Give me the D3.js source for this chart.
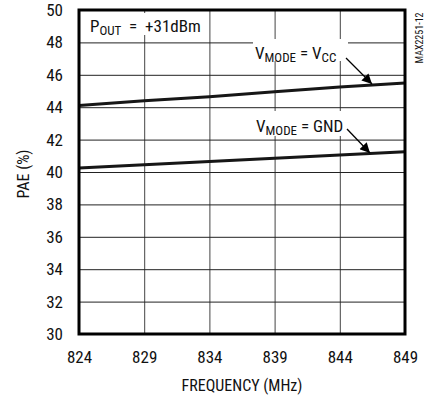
<!DOCTYPE html>
<html>
<head>
<meta charset="utf-8">
<script src="https://cdn.jsdelivr.net/npm/d3@7"></script>
<style>
  html, body { margin: 0; padding: 0; background: #fff; }
  svg text { font-family: "Liberation Sans Narrow", "Arial Narrow", "Roboto Condensed", "DejaVu Sans Condensed", sans-serif; fill: #111; }
</style>
</head>
<body>
<svg id="chart" width="425" height="396"></svg>
<script>
// PAE vs frequency, two VMODE settings
const frequencies = [824, 829, 834, 839, 844, 849];
const paeVcc = [44.1, 44.4, 44.65, 44.95, 45.25, 45.5];
const paeGnd = [40.25, 40.45, 40.65, 40.85, 41.05, 41.25];
const xTicks = [824, 829, 834, 839, 844, 849];
const yTicks = [30, 32, 34, 36, 38, 40, 42, 44, 46, 48, 50];

const svg = d3.select("#chart");
const plotLeft = 79, plotRight = 405, plotTop = 10, plotBottom = 334;
const w = plotRight - plotLeft, h = plotBottom - plotTop;

const x = d3.scaleLinear().domain([824, 849]).range([plotLeft, plotRight]);
const y = d3.scaleLinear().domain([30, 50]).range([plotBottom, plotTop]);

// grid + tick labels
const gx = svg.append("g").attr("transform", `translate(0,${plotBottom})`)
  .call(d3.axisBottom(x).tickValues(xTicks).tickSize(-h).tickPadding(17).tickFormat(d3.format("d")));
gx.select(".domain").remove();
gx.selectAll("line").attr("stroke", "#444").attr("stroke-width", 1);
gx.selectAll("text").attr("font-size", 17).attr("fill", "#111");

const gy = svg.append("g").attr("transform", `translate(${plotLeft},0)`)
  .call(d3.axisLeft(y).tickValues(yTicks).tickSize(-w).tickPadding(16).tickFormat(d3.format("d")));
gy.select(".domain").remove();
gy.selectAll("line").attr("stroke", "#222").attr("stroke-width", 1);
gy.selectAll("text").attr("font-size", 17).attr("fill", "#111");

// label backgrounds masking the grid
const bg = svg.append("g");
bg.append("rect").attr("x", 83).attr("y", 13).attr("width", 118).attr("height", 22).attr("fill", "#fff");
bg.append("rect").attr("x", 253).attr("y", 39).attr("width", 95).attr("height", 22).attr("fill", "#fff");
bg.append("rect").attr("x", 253).attr("y", 111).attr("width", 95).attr("height", 25).attr("fill", "#fff");

// curves
const line = d3.line().x((d, i) => x(frequencies[i])).y(d => y(d));
[paeVcc, paeGnd].forEach(s => {
  svg.append("path").datum(s).attr("d", line)
    .attr("fill", "none").attr("stroke", "#161616").attr("stroke-width", 3);
});

// frame
svg.append("rect").attr("x", plotLeft).attr("y", plotTop).attr("width", w).attr("height", h)
  .attr("fill", "none").attr("stroke", "#000").attr("stroke-width", 3);

// annotations
function subLabel(xp, yp, parts) {
  const t = svg.append("text").attr("x", xp).attr("y", yp).attr("font-size", 17);
  parts.forEach(p => {
    const ts = t.append("tspan").text(p.t);
    if (p.sub) ts.attr("font-size", 13).attr("dy", 3);
    else if (p.back) ts.attr("dy", -3);
  });
  return t;
}
subLabel(90, 32, [{t: "P"}, {t: "OUT", sub: true}, {t: "\u00a0 = \u00a0+31dBm", back: true}]);
subLabel(255, 59, [{t: "V"}, {t: "MODE", sub: true}, {t: " = V", back: true}, {t: "CC", sub: true}]);
subLabel(256, 132, [{t: "V"}, {t: "MODE", sub: true}, {t: " = GND", back: true}]);

// arrows
const defs = svg.append("defs");
defs.append("marker").attr("id", "arr").attr("viewBox", "0 0 10 10")
  .attr("refX", 10).attr("refY", 5).attr("markerWidth", 14).attr("markerHeight", 10)
  .attr("markerUnits", "userSpaceOnUse").attr("orient", "auto")
  .append("path").attr("d", "M0,0 L10,5 L0,10 Z").attr("fill", "#000");
svg.append("line").attr("x1", 346).attr("y1", 58).attr("x2", 372).attr("y2", 84)
  .attr("stroke", "#000").attr("stroke-width", 1.3).attr("marker-end", "url(#arr)");
svg.append("line").attr("x1", 347).attr("y1", 129).attr("x2", 370).attr("y2", 153)
  .attr("stroke", "#000").attr("stroke-width", 1.3).attr("marker-end", "url(#arr)");

// axis titles
svg.append("text").attr("transform", "translate(29,174) rotate(-90)")
  .attr("text-anchor", "middle").attr("font-size", 16).text("PAE (%)");
svg.append("text").attr("x", 242).attr("y", 391)
  .attr("text-anchor", "middle").attr("font-size", 16).text("FREQUENCY (MHz)");

// figure id
svg.append("text").attr("transform", "translate(423,38) rotate(-90)")
  .attr("text-anchor", "middle").attr("font-size", 10).attr("fill", "#444").text("MAX2251-12");
</script>
</body>
</html>
